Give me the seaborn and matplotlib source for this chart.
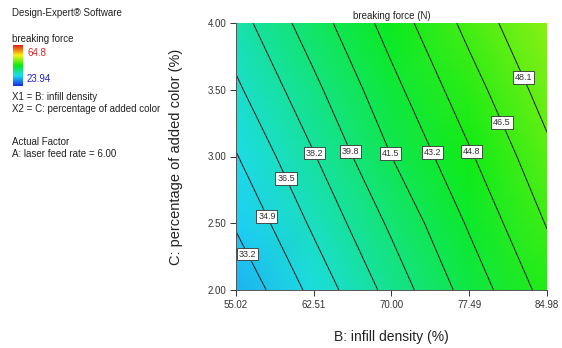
import numpy as np
import matplotlib
matplotlib.use("Agg")
import matplotlib.pyplot as plt
from matplotlib.colors import LinearSegmentedColormap
import seaborn as sns

# ---- data ----
infill_density = [55.02, 62.51, 70.00, 77.49, 84.98]          # B (x)
added_color = [2.00, 2.50, 3.00, 3.50, 4.00]                  # C (y)
# breaking force (N) estimated at each (C row, B column)
force_c200 = [31.8, 35.4, 38.8, 42.2, 45.4]
force_c250 = [33.4, 36.8, 40.1, 43.4, 46.6]
force_c300 = [34.8, 38.1, 41.5, 44.6, 47.7]
force_c350 = [36.2, 39.4, 42.7, 45.8, 48.8]
force_c400 = [37.5, 40.7, 43.9, 47.0, 49.9]
contour_levels = [33.2, 34.9, 36.5, 38.2, 39.8, 41.5, 43.2, 44.8, 46.5, 48.1]
x_ticklabels = ["55.02", "62.51", "70.00", "77.49", "84.98"]
y_ticklabels = ["2.00", "2.50", "3.00", "3.50", "4.00"]
force_min, force_max = 23.94, 64.8
# label anchor positions (B, C) for each contour level
label_pos = [(56.56, 2.285), (58.2, 2.56), (59.93, 2.84), (62.44, 3.02),
             (65.81, 3.03), (69.76, 3.02), (73.61, 3.02), (77.47, 3.03),
             (80.26, 3.24), (82.67, 3.59)]

sns.set_theme(style="ticks")
plt.rcParams['font.family'] = ['Liberation Sans', 'DejaVu Sans']

W, H = 562, 348
fig = plt.figure(figsize=(W / 100, H / 100), dpi=100)
fig.patch.set_facecolor("white")
ax = fig.add_axes([236 / W, 1 - 290 / H, 311 / W, 267 / H])

cmap = LinearSegmentedColormap.from_list(
    "de", [(0.0, (0.08, 0.16, 0.90)), (0.25, (0.12, 0.86, 0.97)),
           (0.5, (0.04, 0.92, 0.08)), (0.75, (0.96, 0.96, 0.08)),
           (1.0, (0.90, 0.10, 0.10))])

Z = np.array([force_c200, force_c250, force_c300, force_c350, force_c400])
Bg, Cg = np.meshgrid(infill_density, added_color)
ax.pcolormesh(Bg, Cg, Z, shading="gouraud", cmap=cmap,
              vmin=force_min, vmax=force_max)
cs = ax.contour(Bg, Cg, Z, levels=contour_levels, colors="#1a1a1a",
                linewidths=0.7)
labels = ax.clabel(cs, inline=False, fmt="%.1f", fontsize=6.5,
                   manual=label_pos, colors="#333333")
for t in labels:
    t.set_rotation(0)
    t.set_zorder(6)
    t.set_bbox(dict(facecolor="white", edgecolor="#333333", linewidth=0.6,
                    boxstyle="square,pad=0.2"))

ax.set_xlim(infill_density[0], infill_density[-1])
ax.set_ylim(added_color[0], added_color[-1])
ax.set_xticks(infill_density)
ax.set_xticklabels(x_ticklabels)
ax.set_yticks(added_color)
ax.set_yticklabels(y_ticklabels)
ax.tick_params(axis="both", labelsize=7, length=4, width=0.7,
               colors="#333333", pad=3, direction="out")
for s in ["left", "bottom"]:
    ax.spines[s].set_color("#555555")
    ax.spines[s].set_linewidth(0.7)
for s in ["top", "right"]:
    ax.spines[s].set_visible(False)

ax.set_title("breaking force (N)", fontsize=7, pad=3, color="#222222")
ax.set_xlabel("B: infill density (%)", fontsize=10, color="#222222")
ax.set_ylabel("C: percentage of added color (%)", fontsize=10.5, color="#222222")
ax.xaxis.set_label_coords(0.5, -0.15)
ax.yaxis.set_label_coords(-0.17, 0.5)

# left-hand legend text
def ftext(x, y, s, **kw):
    fig.text(x / W, 1 - y / H, s, va="center", ha="left", fontsize=7, **kw)

ftext(12, 13, "Design-Expert® Software", color="#222222")
ftext(12, 39, "breaking force", color="#222222")
ftext(27, 53, f"{force_max:g}", color="#e02020")
ftext(27, 79, f"{force_min:.2f}", color="#2020d0")
ftext(12, 97, "X1 = B: infill density", color="#222222")
ftext(12, 109, "X2 = C: percentage of added color", color="#222222")
ftext(12, 142, "Actual Factor", color="#222222")
ftext(12, 154, "A: laser feed rate = 6.00", color="#222222")

cax = fig.add_axes([13 / W, 1 - 86 / H, 10 / W, 41 / H])
grad = np.linspace(force_min, force_max, 256).reshape(-1, 1)
cax.imshow(grad, aspect="auto", cmap=cmap, origin="lower",
           vmin=force_min, vmax=force_max)
cax.set_axis_off()

fig.savefig("out.png", dpi=100, facecolor="white")
